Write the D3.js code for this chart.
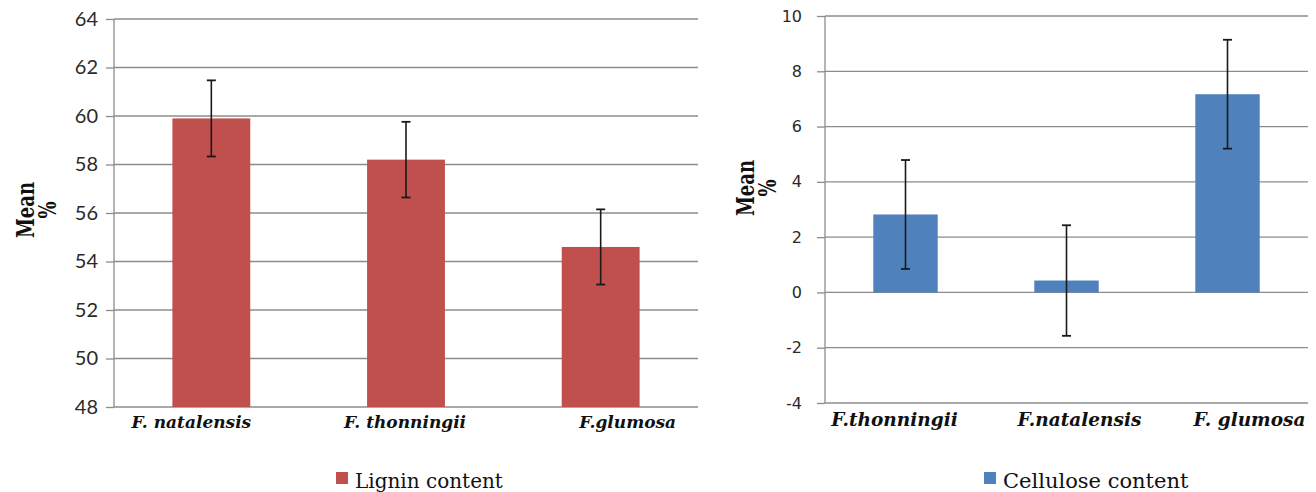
<!DOCTYPE html>
<html><head><meta charset="utf-8">
<script src="https://cdn.jsdelivr.net/npm/d3@7"></script>
<style>body{margin:0;background:#fff}svg{display:block}</style>
</head><body>
<script>
// ---- data ----
const ligninCats = ["F. natalensis", "F. thonningii", "F.glumosa"];
const ligninVals = [59.9, 58.2, 54.6];
const ligninErr = [1.57, 1.56, 1.55];
const ligninTicks = [48, 50, 52, 54, 56, 58, 60, 62, 64];
const ligninLegend = "Lignin content";

const celluCats = ["F.thonningii", "F.natalensis", "F. glumosa"];
const celluVals = [2.82, 0.43, 7.17];
const celluErr = [1.97, 2.0, 1.97];
const celluTicks = [-4, -2, 0, 2, 4, 6, 8, 10];
const celluLegend = "Cellulose content";

const svg = d3.select("body").append("svg").attr("width", 1316).attr("height", 492);

function drawPanel(o) {
  const g = svg.append("g");
  const x = d3.scaleBand().domain(o.cats).range([o.x0, o.x1]).paddingInner(0.6).paddingOuter(0.3);
  const y = d3.scaleLinear().domain(d3.extent(o.ticks)).range([o.y1, o.y0]);

  // gridlines
  g.selectAll(".grid").data(o.ticks).join("line")
    .attr("x1", o.x0).attr("x2", o.x1)
    .attr("y1", d => y(d)).attr("y2", d => y(d))
    .attr("stroke", "#8c8c8c").attr("stroke-width", 1.3);

  // y axis
  const ax = g.append("g").attr("transform", `translate(${o.x0},0)`)
    .call(d3.axisLeft(y).tickValues(o.ticks).tickSize(8).tickPadding(o.tickPad).tickFormat(d => String(d)));
  ax.select(".domain").remove();
  ax.selectAll(".tick line").attr("stroke", "#8c8c8c").attr("stroke-width", 1.3);
  ax.selectAll(".tick text").attr("fill", "#2a2a2a").style("font-family", o.tickFont).style("font-size", o.tickSize + "px");
  g.append("line").attr("x1", o.x0).attr("x2", o.x0).attr("y1", y(o.ticks[o.ticks.length - 1])).attr("y2", y(o.ticks[0]))
    .attr("stroke", "#8c8c8c").attr("stroke-width", 1.3);

  const base = y(Math.max(o.ticks[0], 0));
  // bars
  g.selectAll(".bar").data(o.vals).join("rect")
    .attr("x", (d, i) => x(o.cats[i])).attr("width", x.bandwidth())
    .attr("y", d => Math.min(y(d), base)).attr("height", d => Math.abs(base - y(d)))
    .attr("fill", o.color);

  // error bars
  const eb = g.selectAll(".eb").data(o.vals).join("g");
  eb.append("line")
    .attr("x1", (d, i) => x(o.cats[i]) + x.bandwidth() / 2).attr("x2", (d, i) => x(o.cats[i]) + x.bandwidth() / 2)
    .attr("y1", (d, i) => y(d + o.err[i])).attr("y2", (d, i) => y(d - o.err[i]))
    .attr("stroke", "#1a1a1a").attr("stroke-width", 1.6);
  [1, -1].forEach(s => {
    eb.append("line")
      .attr("x1", (d, i) => x(o.cats[i]) + x.bandwidth() / 2 - 4.5).attr("x2", (d, i) => x(o.cats[i]) + x.bandwidth() / 2 + 4.5)
      .attr("y1", (d, i) => y(d + s * o.err[i])).attr("y2", (d, i) => y(d + s * o.err[i]))
      .attr("stroke", "#1a1a1a").attr("stroke-width", 1.8);
  });

  // category labels
  g.selectAll(".cat").data(o.cats).join("text")
    .attr("x", (d, i) => x(d) + x.bandwidth() / 2 + o.labelShift[i]).attr("y", o.labelY)
    .attr("text-anchor", "middle").attr("fill", "#111")
    .style("font-family", o.catFont).style("font-size", o.catSize + "px")
    .style("font-weight", "bold").style("font-style", "italic").text(d => d);

  // y title
  const sy = 1.35;
  const t = g.append("text").attr("transform", `translate(${o.titleX},${o.titleY}) rotate(-90) scale(1,${sy})`)
    .attr("text-anchor", "middle").attr("fill", "#111")
    .style("font-family", "DejaVu Serif").style("font-weight", "bold").style("font-size", "18px");
  t.append("tspan").attr("x", 0).attr("dy", 0).text("Mean");
  t.append("tspan").attr("x", 0).attr("dy", 22 / sy).text("%");

  // legend
  g.append("rect").attr("x", o.legX).attr("y", 472).attr("width", 12).attr("height", 12).attr("fill", o.color);
  g.append("text").attr("x", o.legX + 19).attr("y", 488).attr("fill", "#111")
    .style("font-family", o.legFont).style("font-size", o.legSize + "px").text(o.legend);
}

drawPanel({
  cats: ligninCats, vals: ligninVals, err: ligninErr, ticks: ligninTicks, legend: ligninLegend,
  x0: 114, x1: 698, y0: 19, y1: 407, color: "#C0504D",
  tickPad: 8, tickFont: "Lato", tickSize: 20,
  labelShift: [-20, -1, 27], labelY: 428, catFont: "DejaVu Serif", catSize: 17,
  titleX: 34, titleY: 210, legX: 336, legFont: "DejaVu Serif", legSize: 20
});

drawPanel({
  cats: celluCats, vals: celluVals, err: celluErr, ticks: celluTicks, legend: celluLegend,
  x0: 825, x1: 1308, y0: 16, y1: 403, color: "#4F81BD",
  tickPad: 15, tickFont: "DejaVu Sans", tickSize: 16,
  labelShift: [-11, 13, 22], labelY: 426, catFont: "DejaVu Serif", catSize: 18.5,
  titleX: 754, titleY: 188, legX: 984, legFont: "DejaVu Serif", legSize: 21
});
</script>
</body></html>
